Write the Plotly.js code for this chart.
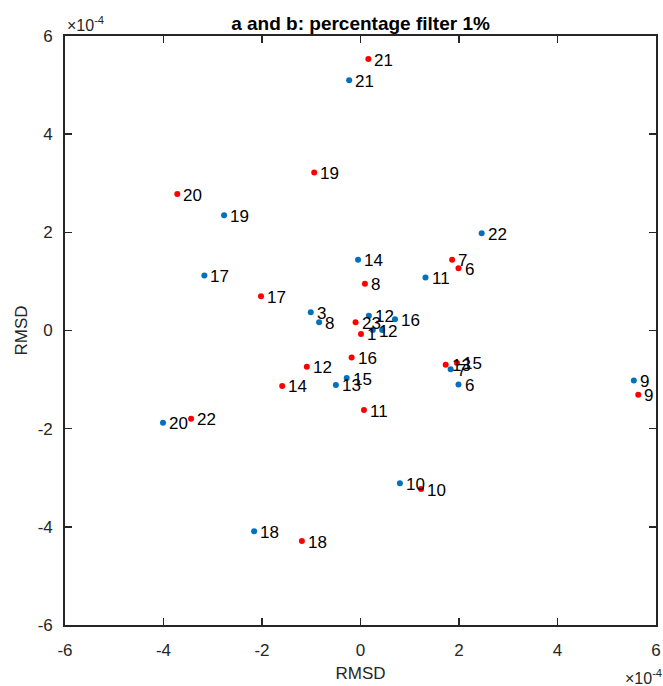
<!DOCTYPE html>
<html>
<head>
<meta charset="utf-8">
<script src="https://cdn.plot.ly/plotly-3.0.1.min.js"></script>
<style>html,body{margin:0;padding:0;background:#fff;}#chart{width:663px;height:686px;}</style>
</head>
<body>
<div id="chart"></div>
<script>
// values in units of 1e-4
const blueLabels = ['1','2','3','6','7','8','9','10','11','12','13','14','15','16','17','18','19','20','21','22'];
const blueX = [0.25, 0.44, -1.01, 1.99, 1.83, -0.84, 5.55, 0.80, 1.32, 0.17, -0.50, -0.05, -0.28, 0.70, -3.17, -2.16, -2.77, -4.01, -0.23, 2.46];
const blueY = [0.01, 0.01, 0.37, -1.10, -0.79, 0.17, -1.02, -3.11, 1.08, 0.30, -1.11, 1.44, -0.97, 0.23, 1.12, -4.09, 2.35, -1.88, 5.10, 1.98];

const redLabels = ['1','6','7','8','9','10','11','12','13','14','15','16','17','18','19','20','21','22','23'];
const redX = [0.01, 1.99, 1.86, 0.09, 5.64, 1.23, 0.07, -1.09, 1.73, -1.59, 1.96, -0.18, -2.02, -1.19, -0.94, -3.72, 0.16, -3.44, -0.10];
const redY = [-0.07, 1.27, 1.44, 0.95, -1.31, -3.23, -1.62, -0.74, -0.70, -1.13, -0.66, -0.55, 0.70, -4.29, 3.22, 2.78, 5.53, -1.80, 0.17];

const tickVals = [-6, -4, -2, 0, 2, 4, 6];
const tickText = ['-6', '-4', '-2', '0', '2', '4', '6'];
const exponentText = '×10<sup>-4</sup>';
const titleText = 'a and b: percentage filter 1%';
const axisTitle = 'RMSD';

const FONT = 'Liberation Sans, Arial, Helvetica, sans-serif';
const BLUE = '#0072BD';
const RED = '#FF0000';

const traces = [
  {x: blueX, y: blueY, mode: 'markers', type: 'scatter', marker: {color: BLUE, size: 6}, hoverinfo: 'skip'},
  {x: redX, y: redY, mode: 'markers', type: 'scatter', marker: {color: RED, size: 6}, hoverinfo: 'skip'}
];

const annotations = [];
function addLabels(xs, ys, labels) {
  for (let i = 0; i < xs.length; i++) {
    annotations.push({
      x: xs[i], y: ys[i], xref: 'x', yref: 'y', text: labels[i], showarrow: false,
      xanchor: 'left', yanchor: 'middle', xshift: 4, yshift: -1,
      font: {family: FONT, size: 17, color: '#000'}
    });
  }
}
addLabels(blueX, blueY, blueLabels);
addLabels(redX, redY, redLabels);

annotations.push({
  xref: 'paper', yref: 'paper', x: 0, y: 1, xanchor: 'left', yanchor: 'bottom', yshift: 0,
  text: exponentText, showarrow: false, font: {family: FONT, size: 16, color: '#262626'}
});
annotations.push({
  xref: 'paper', yref: 'paper', x: 1, y: 0, xanchor: 'right', yanchor: 'top', xshift: 8, yshift: -40,
  text: exponentText, showarrow: false, font: {family: FONT, size: 16, color: '#262626'}
});

const axisCommon = {
  range: [-6, 6], tickvals: tickVals, ticktext: tickText, ticks: 'inside', ticklen: 7, tickwidth: 1.5,
  tickcolor: '#262626', showline: true, linecolor: '#262626', linewidth: 1.8, mirror: 'ticks',
  showgrid: false, zeroline: false, tickfont: {family: FONT, size: 17, color: '#262626'}, fixedrange: true
};

const layout = {
  width: 663, height: 686,
  margin: {l: 65, r: 7, t: 36, b: 61},
  paper_bgcolor: '#fff', plot_bgcolor: '#fff',
  showlegend: false,
  title: {text: '<b>' + titleText + '</b>', font: {family: FONT, size: 19, color: '#000'}, x: 0.5, xref: 'paper', xanchor: 'center', y: 1, yref: 'paper', yanchor: 'bottom', pad: {b: 6}},
  xaxis: Object.assign({}, axisCommon, {ticklabelstandoff: 9, title: {text: axisTitle, font: {family: FONT, size: 17, color: '#262626'}, standoff: 8}}),
  yaxis: Object.assign({}, axisCommon, {ticklabelstandoff: 7, title: {text: axisTitle, font: {family: FONT, size: 17, color: '#262626'}, standoff: 6}}),
  annotations: annotations
};

Plotly.newPlot('chart', traces, layout, {staticPlot: true, displayModeBar: false});
</script>
</body>
</html>
